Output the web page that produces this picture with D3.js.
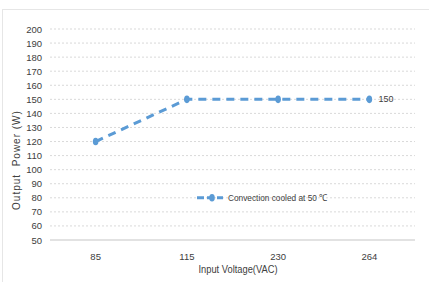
<!DOCTYPE html>
<html>
<head>
<meta charset="utf-8">
<script src="https://cdn.jsdelivr.net/npm/d3@7"></script>
<style>
  body { margin: 0; background: #fff; }
  text { font-family: "Liberation Sans Narrow", "Liberation Sans", sans-serif; fill: #404040; }
</style>
</head>
<body>
<div id="chart"></div>
<script>
const categories = ['85', '115', '230', '264'];
const power = [120, 150, 150, 150];
const yTicks = [50, 60, 70, 80, 90, 100, 110, 120, 130, 140, 150, 160, 170, 180, 190, 200];
const seriesName = 'Convection cooled at 50 ℃';

const width = 429, height = 282;
const color = '#5b9bd5';

const svg = d3.select('#chart').append('svg')
  .attr('width', width)
  .attr('height', height);

// 外框
svg.append('rect')
  .attr('x', 2.5).attr('y', 9.5)
  .attr('width', width - 2).attr('height', height - 9)
  .attr('fill', '#fff')
  .attr('stroke', '#e6e6e6');

const x = d3.scaleBand().domain(categories).range([50, 415]);
const y = d3.scaleLinear().domain([50, 200]).range([240, 29]);

// 网格线
svg.append('g')
  .selectAll('line')
  .data(yTicks.filter(d => d !== 50))
  .join('line')
  .attr('x1', 50).attr('x2', 415)
  .attr('y1', d => y(d)).attr('y2', d => y(d))
  .attr('stroke', '#d9d9d9')
  .attr('stroke-width', 1)
  .attr('stroke-dasharray', '2,2');

// x轴线
svg.append('line')
  .attr('x1', 50).attr('x2', 415)
  .attr('y1', y(50)).attr('y2', y(50))
  .attr('stroke', '#d9d9d9')
  .attr('stroke-width', 1.5);

// y轴刻度
const yAxis = svg.append('g')
  .attr('transform', 'translate(42,0)')
  .call(d3.axisLeft(y).tickValues(yTicks).tickSize(0).tickPadding(0));
yAxis.select('.domain').remove();
yAxis.selectAll('text')
  .attr('font-size', 9.5)
  .attr('fill', '#404040')
  .style('font-family', '"Liberation Sans Narrow", "Liberation Sans", sans-serif');

// x轴刻度
const xAxis = svg.append('g')
  .attr('transform', `translate(0,${y(50)})`)
  .call(d3.axisBottom(x).tickSize(0).tickPadding(13));
xAxis.select('.domain').remove();
xAxis.selectAll('text')
  .attr('font-size', 9.5)
  .attr('fill', '#404040')
  .style('font-family', '"Liberation Sans Narrow", "Liberation Sans", sans-serif');

// 轴标题
svg.append('text')
  .attr('transform', 'translate(20,160) rotate(-90)')
  .attr('text-anchor', 'middle')
  .attr('font-size', 10)
  .attr('letter-spacing', 1)
  .attr('xml:space', 'preserve')
  .text('Output  Power (W)');

svg.append('text')
  .attr('x', 238).attr('y', 273)
  .attr('text-anchor', 'middle')
  .attr('font-size', 10)
  .attr('textLength', 79)
  .attr('lengthAdjust', 'spacingAndGlyphs')
  .text('Input Voltage(VAC)');

// 折线
const cx = d => x(d) + x.bandwidth() / 2;
const pts = categories.map((c, i) => [cx(c), y(power[i])]);

svg.append('path')
  .datum(pts)
  .attr('d', d3.line())
  .attr('fill', 'none')
  .attr('stroke', color)
  .attr('stroke-width', 3)
  .attr('stroke-dasharray', '8,6');

svg.append('g')
  .selectAll('ellipse')
  .data(pts)
  .join('ellipse')
  .attr('cx', d => d[0]).attr('cy', d => d[1])
  .attr('rx', 2.8).attr('ry', 3.8)
  .attr('fill', color);

// 数据标签
svg.append('text')
  .attr('x', cx(categories[3]) + 9)
  .attr('y', y(power[3]))
  .attr('dy', '0.35em')
  .attr('font-size', 9)
  .text(power[3]);

// 图例
const lg = svg.append('g').attr('transform', `translate(197,${y(80)})`);
lg.append('line')
  .attr('x1', 0).attr('x2', 26)
  .attr('stroke', color)
  .attr('stroke-width', 3)
  .attr('stroke-dasharray', '7,3');
lg.append('ellipse')
  .attr('cx', 15).attr('cy', 0)
  .attr('rx', 2.8).attr('ry', 3.8)
  .attr('fill', color);
lg.append('text')
  .attr('x', 31)
  .attr('dy', '0.35em')
  .attr('font-size', 9.5)
  .attr('textLength', 99)
  .attr('lengthAdjust', 'spacingAndGlyphs')
  .text(seriesName);
</script>
</body>
</html>
